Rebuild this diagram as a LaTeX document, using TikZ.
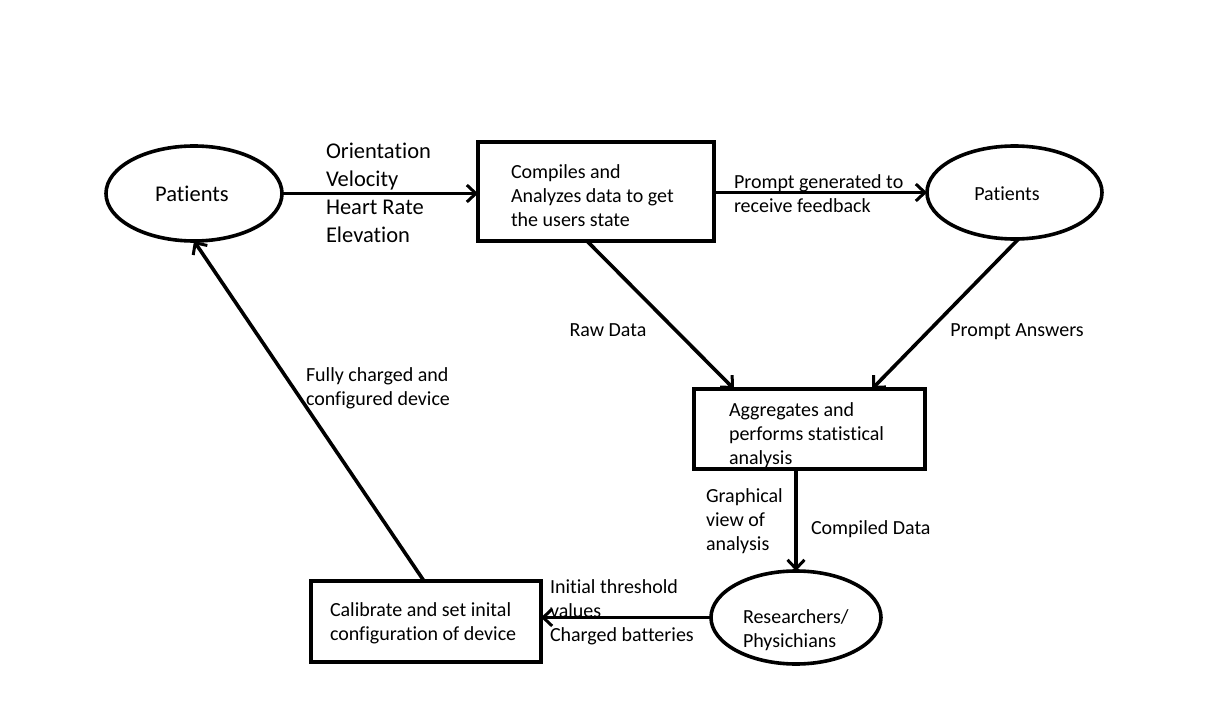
\documentclass[tikz,border=0pt]{standalone}
\usepackage{fontspec}
\setmainfont{Carlito}[Ligatures={NoCommon}]
\usetikzlibrary{arrows.meta,shapes.geometric,calc}
\begin{document}
\begin{tikzpicture}[x=1bp,y=-1bp,
  every node/.style={inner sep=0pt, outer sep=0pt},
  bigtxt/.style={font=\fontsize{22.5bp}{28bp}\selectfont},
  smalltxt/.style={font=\fontsize{20bp}{24bp}\selectfont},
  procbox/.style={draw, line width=3.6bp, rectangle},
  actor/.style={draw, line width=3.6bp, ellipse},
  flow/.style={line width=3.6bp, -{Straight Barb[length=9bp,width=17bp,line width=3bp]}},
  lbl/.style={smalltxt, align=left, anchor=west}
]
\useasboundingbox[fill=white] (0,0) rectangle (1218,714);

\node[actor, minimum width=176bp, minimum height=95bp] (p1) at (194,193.5) {};
\node[procbox, minimum width=236bp, minimum height=99bp] (b1) at (596,191.5) {};
\node[actor, minimum width=175bp, minimum height=93bp] (p2) at (1014.5,192.5) {};
\node[procbox, minimum width=231bp, minimum height=80bp] (b2) at (809.5,429) {};
\node[actor, minimum width=170bp, minimum height=93bp] (e3) at (796,617.5) {};
\node[procbox, minimum width=230bp, minimum height=81bp] (b3) at (426,621.5) {};

\node[bigtxt] (t1) at (192,194) {Patients};
\node[lbl] (t2) at (511,196) {Compiles and\\Analyzes data to get\\the users state};
\node[smalltxt] (t3) at (1007,194) {Patients};
\node[lbl] (t4) at (729,435) {Aggregates and\\performs statistical\\analysis};
\node[lbl] (t5) at (743,630) {Researchers/\\Physichians};
\node[lbl] (t6) at (330,623) {Calibrate and set inital\\configuration of device};

\draw[flow] (p1.east) -- (p1.east -| b1.west);
\draw[flow] (p2.west -| b1.east) -- (p2.west);
\draw[flow] ([xshift=-9bp]b1.south) -- ([xshift=40bp]b2.north west);
\draw[flow] ([xshift=4bp]p2.south) -- ([xshift=-53bp]b2.north east);
\draw[flow] (b2.south -| e3.north) -- (e3.north);
\draw[flow] (e3.west) -- (e3.west -| b3.east);
\draw[flow] ([xshift=-2bp]b3.north) -- (p1.south);

\node[lbl, bigtxt] (l1) at (326,193) {Orientation\\Velocity\\Heart Rate\\Elevation};
\node[lbl] (l2) at (734,194) {Prompt generated to\\receive feedback};
\node[smalltxt] (l3) at (608,330) {Raw Data};
\node[smalltxt] (l4) at (1017,332) {Prompt Answers};
\node[lbl] (l5) at (706,521) {Graphical\\view of\\analysis};
\node[lbl] (l6) at (811,529) {Compiled Data};
\node[lbl] (l7) at (550,612) {Initial threshold\\values\\Charged batteries};
\node[lbl] (l8) at (306,388) {Fully charged and\\configured device};
\end{tikzpicture}
\end{document}
